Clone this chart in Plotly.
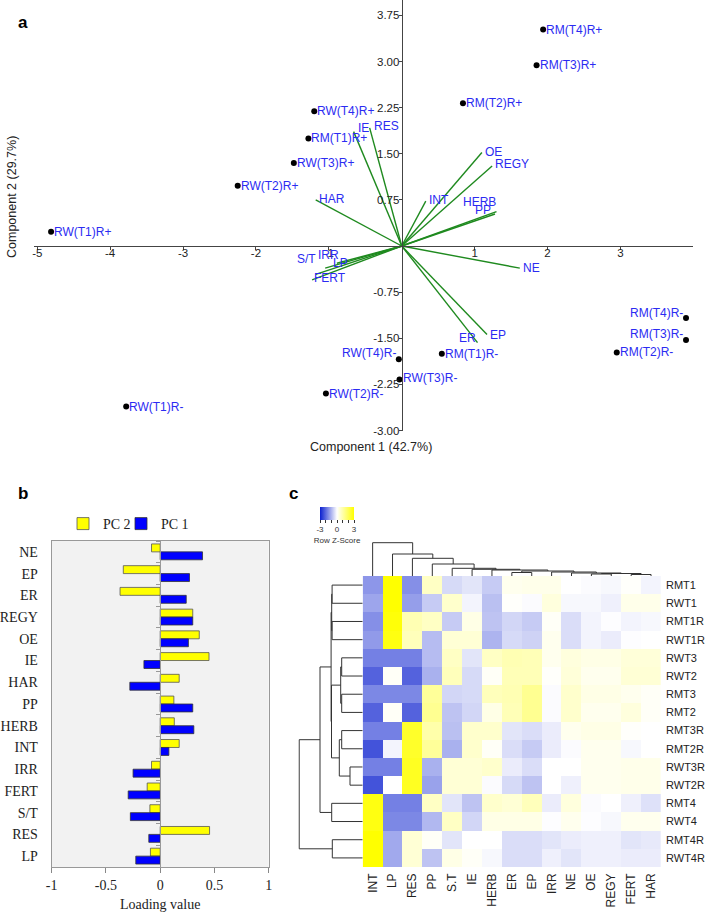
import plotly.graph_objects as go

W, H = 708, 912


def fx(p):
    return p / W


def fy(p):
    return 1 - p / H


# ---------------- Panel a : PCA biplot ----------------
sample_names = ["RW(T1)R+", "RW(T2)R+", "RW(T3)R+", "RM(T1)R+", "RW(T4)R+", "RM(T2)R+",
                "RM(T3)R+", "RM(T4)R+", "RM(T4)R-", "RM(T3)R-", "RM(T2)R-", "RM(T1)R-",
                "RW(T4)R-", "RW(T3)R-", "RW(T2)R-", "RW(T1)R-"]
sample_pc1 = [-4.81, -2.25, -1.48, -1.28, -1.20, 0.84, 1.85, 1.94,
              3.90, 3.90, 2.95, 0.55, -0.04, -0.03, -1.04, -3.78]
sample_pc2 = [0.23, 0.98, 1.35, 1.75, 2.19, 2.32, 2.94, 3.52,
              -1.17, -1.53, -1.73, -1.75, -1.84, -2.17, -2.40, -2.61]

var_names = ["HAR", "IE", "RES", "INT", "OE", "REGY", "HERB", "PP",
             "NE", "EP", "ER", "S/T", "IRR", "LP", "FERT"]
var_pc1 = [-1.18, -0.66, -0.44, 0.33, 1.10, 1.24, 1.30, 1.28,
           1.62, 1.17, 1.04, -1.18, -1.05, -0.89, -1.23]
var_pc2 = [0.75, 1.86, 1.92, 0.73, 1.52, 1.30, 0.56, 0.52,
           -0.36, -1.44, -1.57, -0.46, -0.36, -0.28, -0.55]

a_xticks = [-5, -4, -3, -2, -1, 1, 2, 3]
a_xticktext = ["-5", "-4", "-3", "-2", "-1", "1", "2", "3"]
a_yticks = [3.75, 3.0, 2.25, 1.5, 0.75, -0.75, -1.5, -2.25, -3.0]
a_yticktext = ["3.75", "3.00", "2.25", "1.50", "0.75", "-0.75", "-1.50", "-2.25", "-3.00"]

# label placement styles (anchor, xshift, yshift)
sample_label_style = [("left", 1, 0)] * 8 + [("right", -1, 5), ("right", -1, 6), ("left", 1, 0),
                                               ("left", 1, 0), ("right", -1, 6), ("left", 1, 1),
                                               ("left", 1, 0), ("left", 1, 0)]
var_label_style = [("left", 1, 1), ("left", 2, 4), ("left", 2, 2), ("left", 1, 1), ("left", 1, 1),
                   ("left", 1, 2), ("right", 2, 10), ("right", -2, 4), ("left", 1, 0),
                   ("left", 1, 0), ("right", 0, 5), ("right", 2, 15), ("center", 3, 13),
                   ("center", 4, 0), ("left", 0, 2)]

# ---------------- Panel b : loadings ----------------
loading_vars = ["NE", "EP", "ER", "REGY", "OE", "IE", "HAR", "PP", "HERB", "INT",
                "IRR", "FERT", "S/T", "RES", "LP"]
pc1_loading = [0.39, 0.27, 0.24, 0.30, 0.26, -0.15, -0.28, 0.30, 0.31, 0.08,
               -0.25, -0.295, -0.275, -0.105, -0.225]
pc2_loading = [-0.08, -0.34, -0.37, 0.30, 0.36, 0.45, 0.175, 0.126, 0.13, 0.175,
               -0.08, -0.12, -0.095, 0.455, -0.09]

# ---------------- Panel c : heatmap ----------------
heat_cols = ["INT", "LP", "RES", "PP", "S.T", "IE", "HERB", "ER", "EP", "IRR",
             "NE", "OE", "REGY", "FERT", "HAR"]
heat_rows = ["RMT1", "RWT1", "RMT1R", "RWT1R", "RWT3", "RWT2", "RMT3", "RMT2",
             "RMT3R", "RMT2R", "RWT3R", "RWT2R", "RMT4", "RWT4", "RMT4R", "RWT4R"]
zscore_rows = [
    [-1.4, 3.2, -1.5, 0.7, -0.5, -0.35, -0.7, 0.2, 0.25, 0.25, 0.0, -0.05, -0.1, 0.05, -0.15],
    [-1.2, 3.0, -1.3, -0.7, 0.6, -0.15, -0.85, 0.05, -0.05, 0.4, -0.1, -0.1, -0.2, 0.25, 0.25],
    [-1.5, 2.9, 0.9, 0.7, -0.7, 0.3, -0.8, -0.55, -0.7, 0.1, -0.45, -0.15, -0.03, -0.15, -0.1],
    [-1.35, 2.8, 0.8, -0.9, 0.5, 0.5, -1.0, -0.5, -0.6, 0.2, -0.45, -0.15, -0.25, -0.03, 0.0],
    [-1.7, -1.7, -1.7, -0.9, 0.7, -0.35, 0.7, 0.9, 0.85, 0.2, 0.4, 0.3, 0.3, 0.45, 0.45],
    [-2.1, 0.1, -2.1, -1.05, 0.8, -0.5, 0.1, 0.85, 0.85, 0.05, 0.45, 0.2, 0.2, 0.5, 0.5],
    [-1.6, -1.6, -1.6, 1.2, -0.55, -0.5, 0.8, 0.9, 1.3, -0.05, 0.6, 0.3, 0.3, 0.2, 0.1],
    [-2.1, 0.1, -2.1, 1.3, -0.8, -0.55, 0.3, 0.85, 1.3, -0.05, 0.6, 0.2, 0.2, 0.4, 0.1],
    [-1.7, -1.7, 2.5, 1.0, -0.85, 0.6, 0.6, -0.35, -0.45, -0.25, 0.2, 0.3, 0.3, 0.05, 0.0],
    [-2.3, -0.15, 2.5, 1.2, -1.05, 0.6, 0.1, -0.45, -0.7, -0.25, -0.05, 0.2, 0.2, -0.1, 0.0],
    [-1.7, -1.7, 2.6, -1.05, 0.5, 0.5, 0.6, -0.25, -0.45, 0.0, 0.0, 0.2, 0.2, 0.25, 0.25],
    [-2.3, 0.0, 2.6, -1.25, 0.5, 0.5, -0.05, -0.5, -0.8, 0.0, -0.2, 0.2, 0.2, 0.25, 0.25],
    [2.8, -1.7, -1.7, 0.7, -0.35, -0.8, 0.6, 0.5, 0.8, -0.25, 0.4, -0.05, 0.0, -0.2, -0.4],
    [2.8, -1.6, -1.6, -0.95, 0.7, -0.55, 0.3, 0.3, 0.3, -0.03, 0.2, -0.03, -0.1, 0.2, 0.2],
    [3.3, -1.15, 0.5, 0.1, -0.35, 0.0, 0.0, -0.45, -0.45, -0.35, -0.25, -0.2, -0.2, -0.35, -0.3],
    [3.3, -1.15, 0.5, -0.8, 0.3, 0.1, -0.1, -0.45, -0.45, -0.2, -0.35, -0.2, -0.2, -0.25, -0.25],
]

# dendrogram merges (node ids: leaves 0..n-1, then n, n+1, ... in merge order)
col_merge_left = [11, 13, 15, 10, 7, 9, 19, 6, 5, 4, 3, 2, 1, 0]
col_merge_right = [12, 14, 16, 17, 8, 18, 20, 21, 22, 23, 24, 25, 26, 27]
col_merge_height = [2.0, 1.5, 2.5, 3.0, 3.5, 4.0, 5.0, 6.0, 6.7, 7.7, 12.0, 17.7, 22.0, 33.3]

row_merge_left = [0, 2, 16, 4, 6, 19, 8, 10, 22, 21, 18, 12, 26, 14, 28]
row_merge_right = [1, 3, 17, 5, 7, 20, 9, 11, 23, 24, 25, 13, 27, 15, 29]
row_merge_height = [30.6, 30.6, 31.0, 21.0, 21.0, 22.0, 21.0, 12.7, 23.4, 31.2, 31.6, 31.0,
                    42.7, 30.4, 63.5]


def dendro_segments(lefts, rights, heights, n):
    pos = {i: float(i) for i in range(n)}
    hgt = {i: 0.0 for i in range(n)}
    xs, ys = [], []
    for k, (a, b, h) in enumerate(zip(lefts, rights, heights)):
        node = n + k
        xs += [pos[a], pos[a], pos[b], pos[b], None]
        ys += [hgt[a], h, h, hgt[b], None]
        pos[node] = (pos[a] + pos[b]) / 2
        hgt[node] = h
    return xs, ys


ARIAL = "Liberation Sans, Arial, sans-serif"
SERIF = "Liberation Serif, Times New Roman, serif"
LABEL_BLUE = "#2b2bf2"
GREEN = "#1f8a1f"

fig = go.Figure()

# ---- a: arrows
ax, ay = [], []
for px_, py_ in zip(var_pc1, var_pc2):
    ax += [0, px_, None]
    ay += [0, py_, None]
fig.add_trace(go.Scatter(x=ax, y=ay, mode="lines", line=dict(color=GREEN, width=1.4),
                         xaxis="x", yaxis="y", showlegend=False, hoverinfo="skip"))
fig.add_trace(go.Scatter(x=sample_pc1, y=sample_pc2, mode="markers",
                         marker=dict(color="black", size=6), xaxis="x", yaxis="y",
                         showlegend=False, text=sample_names))

annotations = []
for name, x_, y_, (anc, xs_, ys_) in zip(sample_names, sample_pc1, sample_pc2, sample_label_style):
    annotations.append(dict(x=x_, y=y_, xref="x", yref="y", text=name, showarrow=False,
                            xanchor=anc, yanchor="middle", xshift=xs_, yshift=ys_,
                            font=dict(family=ARIAL, size=12, color=LABEL_BLUE)))
for name, x_, y_, (anc, xs_, ys_) in zip(var_names, var_pc1, var_pc2, var_label_style):
    annotations.append(dict(x=x_, y=y_, xref="x", yref="y", text=name, showarrow=False,
                            xanchor=anc, yanchor="middle", xshift=xs_, yshift=ys_,
                            font=dict(family=ARIAL, size=12, color=LABEL_BLUE)))

# ---- b: loadings bars
fig.add_trace(go.Bar(y=loading_vars, x=pc2_loading, orientation="h", name="PC 2",
                     marker=dict(color="#ffff00", line=dict(color="#555555", width=0.8)),
                     xaxis="x2", yaxis="y2", legend="legend"))
fig.add_trace(go.Bar(y=loading_vars, x=pc1_loading, orientation="h", name="PC 1",
                     marker=dict(color="#0000ff", line=dict(color="#333333", width=0.8)),
                     xaxis="x2", yaxis="y2", legend="legend2"))
fig.add_trace(go.Scatter(y=loading_vars, x=[0] * len(loading_vars), mode="markers",
                         marker=dict(opacity=0), xaxis="x2", yaxis="y3",
                         showlegend=False, hoverinfo="skip"))

# ---- c: heatmap
fig.add_trace(go.Heatmap(z=zscore_rows, x=heat_cols, y=heat_rows, xaxis="x3", yaxis="y4",
                         zmin=-3, zmax=3,
                         colorscale=[[0, "#0a1fcf"], [0.5, "#ffffff"], [1, "#ffff00"]],
                         colorbar=dict(orientation="h", x=fx(337), xanchor="center",
                                       y=fy(507), yanchor="top", len=34, lenmode="pixels",
                                       thickness=13, thicknessmode="pixels", outlinewidth=0,
                                       xpad=0, ypad=0,
                                       tickvals=[-3, -2, -1, 0, 1, 2, 3],
                                       ticktext=["-3", "", "", "0", "", "", "3"],
                                       ticks="outside", ticklen=3, tickwidth=1,
                                       tickcolor="#333",
                                       tickfont=dict(family=ARIAL, size=8, color="#333"),
                                       title=dict(text="Row Z-Score", side="bottom",
                                                  font=dict(family=ARIAL, size=8,
                                                            color="#333")))))

cx, cy = dendro_segments(col_merge_left, col_merge_right, col_merge_height, len(heat_cols))
fig.add_trace(go.Scatter(x=cx, y=cy, mode="lines", line=dict(color="#333", width=1),
                         xaxis="x4", yaxis="y5", showlegend=False, hoverinfo="skip"))
rx, ry = dendro_segments(row_merge_left, row_merge_right, row_merge_height, len(heat_rows))
fig.add_trace(go.Scatter(x=ry, y=rx, mode="lines", line=dict(color="#333", width=1),
                         xaxis="x5", yaxis="y6", showlegend=False, hoverinfo="skip"))

# ---- panel letters & axis titles
for t, x_, y_ in [("a", 23, 22), ("b", 23, 493), ("c", 293, 493)]:
    annotations.append(dict(x=fx(x_), y=fy(y_), xref="paper", yref="paper", text="<b>%s</b>" % t,
                            showarrow=False, xanchor="center", yanchor="middle",
                            font=dict(family=ARIAL, size=17, color="black")))
annotations.append(dict(x=fx(12), y=fy(197), xref="paper", yref="paper",
                        text="Component 2 (29.7%)", textangle=-90, showarrow=False,
                        xanchor="center", yanchor="middle",
                        font=dict(family=ARIAL, size=12.5, color="#222")))
annotations.append(dict(x=fx(371), y=fy(447), xref="paper", yref="paper",
                        text="Component 1 (42.7%)", showarrow=False,
                        xanchor="center", yanchor="middle",
                        font=dict(family=ARIAL, size=12.5, color="#222")))

shapes = [dict(type="rect", xref="x2 domain", yref="y2 domain", x0=0, x1=1, y0=0, y1=1,
               fillcolor="#f2f2f2", line=dict(width=0), layer="below")]

tickfont_a = dict(family=ARIAL, size=11.5, color="#222")
legend_common = dict(orientation="h", xanchor="left", yanchor="middle",
                     font=dict(family=SERIF, size=14, color="#222"),
                     bgcolor="rgba(0,0,0,0)", itemwidth=30)
fig.update_layout(
    width=W, height=H, margin=dict(l=0, r=0, t=0, b=0, pad=0, autoexpand=False),
    paper_bgcolor="white", plot_bgcolor="rgba(0,0,0,0)",
    barmode="group", bargap=0.27, bargroupgap=0,
    annotations=annotations, shapes=shapes,
    legend=dict(x=fx(63), y=fy(524), **legend_common),
    legend2=dict(x=fx(121), y=fy(524), **legend_common),
    xaxis=dict(domain=[fx(33.6), fx(693.3)], range=[-5.05, 4.0], anchor="free",
               position=fy(246), showline=True, linecolor="#444", linewidth=1,
               ticks="outside", ticklen=3, tickcolor="#444", tickvals=a_xticks,
               ticktext=a_xticktext, showgrid=False, zeroline=False, tickfont=tickfont_a,
               ticklabelstandoff=-7),
    yaxis=dict(domain=[fy(430.5), fy(0)], range=[-3.0, 4.0], anchor="free",
               position=fx(401.7), showline=True, linecolor="#444", linewidth=1,
               ticks="outside", ticklen=3, tickcolor="#444", tickvals=a_yticks,
               ticktext=a_yticktext, showgrid=False, zeroline=False, tickfont=tickfont_a,
               ticklabelstandoff=-3),
    xaxis2=dict(domain=[fx(51.7), fx(268.7)], range=[-1, 1], anchor="y2",
                tickvals=[-1, -0.5, 0, 0.5, 1], ticktext=["-1", "-0.5", "0", "0.5", "1"],
                ticks="outside", ticklen=5, tickcolor="#888", showline=True, mirror=True,
                linecolor="#999", showgrid=False, zeroline=False,
                tickfont=dict(family=SERIF, size=14, color="#222"),
                title=dict(text="Loading value", standoff=9,
                           font=dict(family=SERIF, size=14, color="#222"))),
    yaxis2=dict(domain=[fy(867), fy(541)], type="category", categoryarray=loading_vars,
                range=[14.5, -0.5], anchor="x2", showline=True, mirror=True,
                linecolor="#999", ticks="", showgrid=False, ticklabelstandoff=10,
                tickfont=dict(family=SERIF, size=14, color="#222")),
    yaxis3=dict(type="category", categoryarray=loading_vars, range=[14.5, -0.5],
                overlaying="y2", anchor="free", position=fx(160.3), showticklabels=False,
                ticks="outside", tickson="boundaries", ticklen=4, tickcolor="#999",
                showline=True, linecolor="#999", showgrid=False, zeroline=False),
    xaxis3=dict(domain=[fx(362.7), fx(661)], anchor="y4", tickangle=-90, ticks="",
                showgrid=False, zeroline=False, ticklabelstandoff=3,
                tickfont=dict(family=ARIAL, size=12, color="#222")),
    yaxis4=dict(domain=[fy(867), fy(576)], anchor="x3", side="right",
                range=[15.5, -0.5], ticks="", showgrid=False, zeroline=False,
                ticklabelstandoff=4,
                tickfont=dict(family=ARIAL, size=11, color="#222")),
    xaxis4=dict(domain=[fx(362.7), fx(661)], range=[-0.5, 14.5], anchor="y5", visible=False),
    yaxis5=dict(domain=[fy(576), fy(541.5)], range=[0, 34.5], anchor="x4", visible=False),
    xaxis5=dict(domain=[fx(298.2), fx(362.7)], range=[64.5, 0], anchor="y6", visible=False),
    yaxis6=dict(domain=[fy(867), fy(576)], range=[15.5, -0.5], anchor="x5", visible=False),
)

fig.write_html("out.html", config={"displayModeBar": False},
               post_script="document.body.style.margin='0';document.body.style.padding='0';")
